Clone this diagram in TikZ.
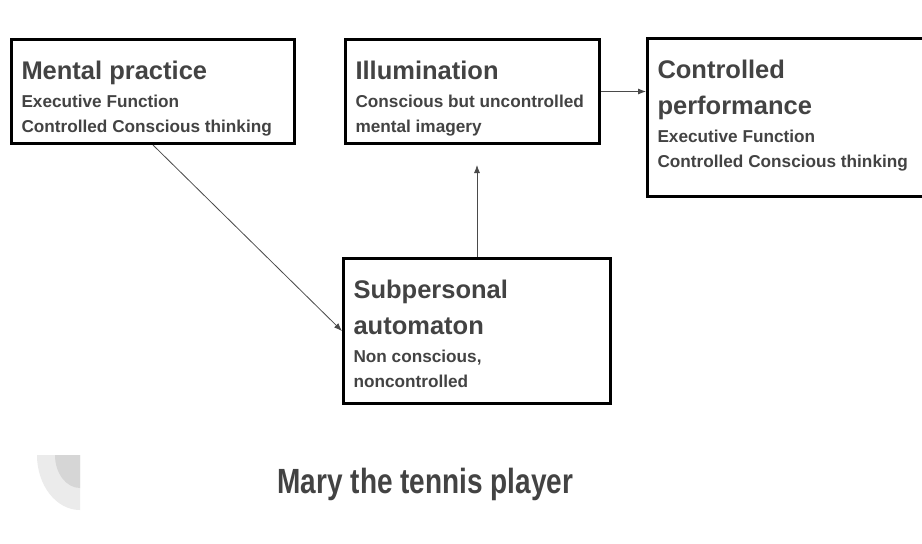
\documentclass[tikz,border=0pt]{standalone}
\usepackage{fontspec}
\setmainfont{Liberation Sans}
\usetikzlibrary{arrows.meta}
\definecolor{inkgray}{HTML}{434343}
\definecolor{linegray}{HTML}{4A4A4A}
\definecolor{leafouter}{HTML}{EBEBEB}
\definecolor{leafinner}{HTML}{D6D6D6}
\newcommand{\headfont}{\fontsize{25.5}{36}\selectfont\bfseries}
\newcommand{\notefont}{\fontsize{17.2}{25}\selectfont\bfseries}
% height, width, heading, note lines
\newcommand{\cardtext}[4]{\parbox[c][#1][t]{#2}{\raggedright\vspace*{22pt}\headfont #3\par\vspace{3pt}\notefont #4\par}}
\tikzset{
  card/.style={draw=black, line width=3pt, inner xsep=10pt, inner ysep=0pt, anchor=north west, text=inkgray},
  link/.style={draw=linegray, line width=0.8pt, -{Latex[length=8pt,width=6pt]}}
}

\begin{document}
\begin{tikzpicture}[x=1pt,y=-1pt]
\useasboundingbox (0,0) rectangle (922,544);
\clip (0,0) rectangle (922,544);
\fill[white] (0,0) rectangle (922,544);
%boxes
\node[card] (practice) at (10,38) {\cardtext{104pt}{263pt}{Mental practice}{Executive Function\\Controlled Conscious thinking}};
\node[card] (illumination) at (344,38) {\cardtext{104pt}{234pt}{Illumination}{Conscious but uncontrolled\\mental imagery}};
\node[card] (performance) at (646,37) {\cardtext{158pt}{269pt}{Controlled\\performance}{Executive Function\\Controlled Conscious thinking}};
\node[card] (automaton) at (342,257) {\cardtext{145pt}{247pt}{Subpersonal\\automaton}{Non conscious,\\noncontrolled}};
%arrows
\draw[link] (practice.south) -- (automaton.west);
\draw[link, shorten >=20pt] (automaton.north) -- (automaton.north |- illumination.south);
\draw[link] (illumination.east) -- (illumination.east -| performance.west);
%corner leaf
\fill[leafouter] (80,455) -- (37,455) arc[start angle=180, end angle=270, x radius=43pt, y radius=55pt] -- cycle;
\fill[leafinner] (80,455) -- (55,455) arc[start angle=180, end angle=270, x radius=25pt, y radius=33pt] -- cycle;
%title
\node[font=\fontsize{35}{40}\selectfont\bfseries, text=inkgray, xscale=.8, anchor=base] (title) at (425.5,493) {Mary the tennis player};
\end{tikzpicture}
\end{document}
